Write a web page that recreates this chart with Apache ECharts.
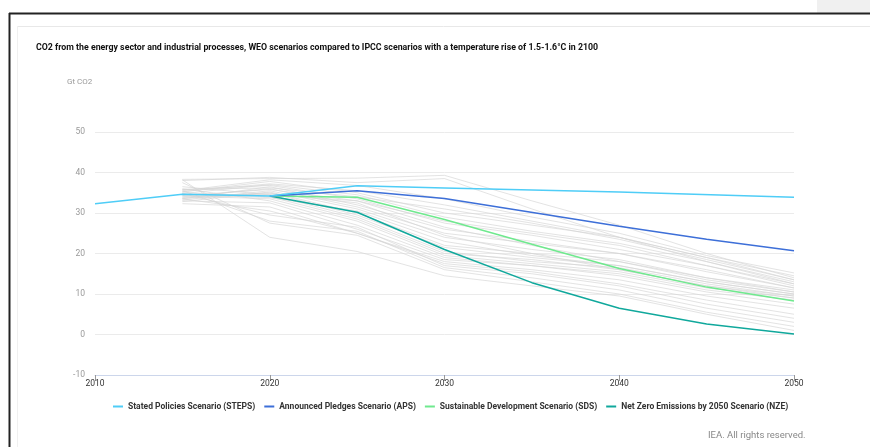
<!DOCTYPE html>
<html>
<head>
<meta charset="utf-8">
<script src="https://cdn.jsdelivr.net/npm/echarts@6/dist/echarts.min.js"></script>
<style>
  html, body { margin: 0; padding: 0; background: #fff; }
  #chart { width: 870px; height: 447px; }
</style>
</head>
<body>
<div id="chart"></div>
<script>
// WEO scenarios
var stepsYears = [2010, 2015, 2020, 2025, 2030, 2040, 2050];
var stepsVals  = [32.3, 34.6, 34.2, 36.7, 36.2, 35.2, 33.9];
var apsYears = [2020, 2025, 2030, 2040, 2045, 2050];
var apsVals  = [34.2, 35.5, 33.6, 26.7, 23.5, 20.7];
var sdsYears = [2020, 2025, 2030, 2035, 2040, 2045, 2050];
var sdsVals  = [34.2, 33.9, 28.4, 22.3, 16.3, 11.7, 8.3];
var nzeYears = [2020, 2025, 2030, 2035, 2040, 2045, 2050];
var nzeVals  = [34.2, 30.2, 21.0, 12.8, 6.5, 2.6, 0.1];

// IPCC scenarios (1.5-1.6°C in 2100)
var ipccYears = [2015, 2020, 2025, 2030, 2035, 2040, 2045, 2050];
var ipccVals = [
    [38.3, 38.5, 38.6, 39.3, 33.0, 27.0, 20.0, 14.0],
    [38.0, 38.8, 37.5, 38.5, 31.0, 24.0, 18.0, 12.5],
    [35.5, 38.2, 36.8, 33.5, 29.0, 25.0, 19.5, 15.2],
    [35.2, 37.8, 35.0, 30.0, 27.0, 24.0, 19.0, 14.5],
    [34.8, 37.0, 34.5, 29.0, 25.5, 22.5, 18.0, 13.0],
    [35.8, 36.8, 33.5, 27.5, 24.5, 21.0, 17.0, 12.5],
    [33.5, 36.5, 32.0, 26.0, 23.0, 20.0, 16.0, 11.5],
    [34.0, 36.0, 31.5, 25.0, 22.5, 20.0, 15.5, 11.5],
    [33.2, 35.5, 31.0, 24.0, 21.0, 18.5, 14.0, 11.0],
    [32.8, 35.2, 30.0, 22.0, 20.0, 18.0, 13.5, 10.5],
    [33.8, 35.0, 29.5, 21.5, 19.0, 17.0, 13.0, 10.0],
    [34.5, 34.5, 29.0, 20.5, 18.0, 16.5, 12.5, 9.5],
    [35.0, 34.0, 28.5, 20.0, 18.5, 16.0, 12.0, 9.5],
    [34.2, 33.5, 28.0, 19.5, 17.5, 15.5, 11.5, 9.0],
    [36.0, 33.0, 27.0, 19.0, 17.0, 15.0, 11.0, 8.5],
    [33.0, 32.5, 26.0, 18.5, 17.0, 14.5, 10.5, 7.5],
    [32.3, 31.5, 25.0, 18.0, 16.0, 13.5, 9.5, 6.5],
    [33.5, 30.5, 25.0, 17.5, 15.5, 12.5, 8.5, 5.0],
    [34.8, 29.5, 26.5, 17.0, 15.0, 12.0, 7.5, 4.0],
    [35.5, 28.0, 25.5, 16.5, 14.0, 11.0, 6.5, 3.0],
    [37.5, 27.5, 24.5, 16.0, 13.0, 10.0, 5.5, 2.0],
    [38.2, 24.0, 20.5, 14.5, 12.0, 9.5, 5.0, 1.0],
    [36.5, 34.5, 33.0, 28.0, 25.0, 22.0, 17.0, 12.0],
    [35.8, 36.2, 34.0, 31.0, 27.5, 23.5, 18.5, 13.5],
    [34.3, 35.8, 33.0, 26.5, 22.0, 18.0, 14.0, 10.5],
    [33.6, 34.8, 32.5, 24.5, 20.0, 16.0, 12.0, 9.0],
    [35.3, 37.2, 35.5, 32.0, 28.0, 24.0, 19.0, 13.5],
    [34.6, 33.8, 30.5, 23.0, 19.5, 17.0, 13.0, 10.0]
];

var legendNames = ['Stated Policies Scenario (STEPS)', 'Announced Pledges Scenario (APS)',
    'Sustainable Development Scenario (SDS)', 'Net Zero Emissions by 2050 Scenario (NZE)'];
var colors = ['#4fcdf7', '#3d6fd8', '#6fe98e', '#10a89c'];

function pairs(xs, ys) {
    var out = [];
    for (var i = 0; i < xs.length; i++) out.push([xs[i], ys[i]]);
    return out;
}

var chart = echarts.init(document.getElementById('chart'));

var series = [];
for (var i = 0; i < ipccVals.length; i++) {
    series.push({
        name: 'IPCC ' + (i + 1),
        type: 'line',
        data: pairs(ipccYears, ipccVals[i]),
        symbol: 'none',
        silent: true,
        z: 1,
        lineStyle: { color: '#d4d4d4', width: 1, opacity: 0.65 }
    });
}
var colored = [
    [nzeYears, nzeVals, 3],
    [sdsYears, sdsVals, 2],
    [apsYears, apsVals, 1],
    [stepsYears, stepsVals, 0]
];
for (var k = 0; k < colored.length; k++) {
    var idx = colored[k][2];
    series.push({
        name: legendNames[idx],
        type: 'line',
        data: pairs(colored[k][0], colored[k][1]),
        symbol: 'none',
        z: 3 + k,
        itemStyle: { color: colors[idx] },
        lineStyle: { color: colors[idx], width: 1.5 }
    });
}

var option = {
    backgroundColor: '#fff',
    animation: false,
    textStyle: { fontFamily: 'Roboto, sans-serif' },
    title: {
        text: 'CO2 from the energy sector and industrial processes, WEO scenarios compared to IPCC scenarios with a temperature rise of 1.5-1.6°C in 2100',
        left: 31,
        top: 38,
        textStyle: { fontSize: 8.8, fontWeight: 'bold', color: '#111', fontFamily: 'Roboto' }
    },
    legend: {
        data: legendNames,
        top: 397,
        left: 108,
        icon: 'rect',
        itemWidth: 10,
        itemHeight: 2,
        itemGap: 9,
        textStyle: { fontSize: 8.5, fontWeight: 'bold', color: '#333', fontFamily: 'Roboto' }
    },
    graphic: [
        { type: 'rect', shape: { x: 817, y: 0, width: 53, height: 13 }, style: { fill: '#f0f0f0' } },
        { type: 'line', shape: { x1: 9, y1: 13.5, x2: 870, y2: 13.5 }, style: { stroke: '#222', lineWidth: 2 } },
        { type: 'line', shape: { x1: 9.5, y1: 13, x2: 9.5, y2: 447 }, style: { stroke: '#222', lineWidth: 2 } },
        { type: 'line', shape: { x1: 17, y1: 26.5, x2: 870, y2: 26.5 }, style: { stroke: '#e8e8e8', lineWidth: 1 } },
        { type: 'line', shape: { x1: 17.5, y1: 26, x2: 17.5, y2: 447 }, style: { stroke: '#f0f0f0', lineWidth: 1 } },
        { type: 'text', left: 67, top: 78, style: { text: 'Gt CO2', fontSize: 8, fill: '#999', fontFamily: 'Roboto' } },
        { type: 'text', left: 708, top: 431, style: { text: 'IEA. All rights reserved.', fontSize: 9.5, fill: '#888', fontFamily: 'Roboto' } }
    ],
    grid: { left: 95, right: 76, top: 132, bottom: 72 },
    xAxis: {
        type: 'value',
        min: 2010,
        max: 2050,
        interval: 10,
        axisLine: { onZero: false, lineStyle: { color: '#ccd6eb' } },
        axisTick: { show: true, length: 6, lineStyle: { color: '#999' } },
        splitLine: { show: false },
        axisLabel: { color: '#333', fontSize: 8.5, margin: 4, formatter: function (v) { return String(v); } }
    },
    yAxis: {
        type: 'value',
        min: -10,
        max: 50,
        interval: 10,
        axisLine: { show: false },
        axisTick: { show: false },
        splitLine: { lineStyle: { color: '#ebebeb' } },
        axisLabel: { color: '#999', fontSize: 8.5, margin: 10 }
    },
    series: series
};

chart.setOption(option);
</script>
</body>
</html>
